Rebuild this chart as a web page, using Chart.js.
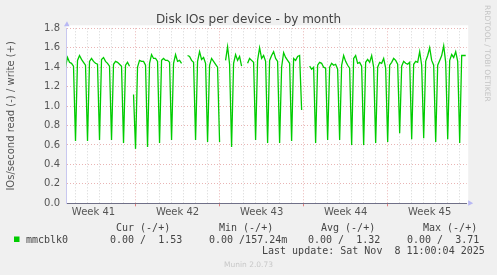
<!DOCTYPE html>
<html>
<head>
<meta charset="utf-8">
<script src="https://cdn.jsdelivr.net/npm/chart.js@4.4.1/dist/chart.umd.min.js"></script>
<style>
  html, body { margin: 0; padding: 0; background: #f0f0f0; }
  #wrap { width: 497px; height: 275px; }
</style>
</head>
<body>
<div id="wrap"><canvas id="chart" width="497" height="275"></canvas></div>
<script>
// writes per second, 4 hour averages (6 per day). day 0 = monday of week 41
const startDay = 1 + 1 / 6;
const stepDay = 1 / 6;
const writes = [
  1.40, 1.50, 1.45, 1.44, 1.41,
  0.64, 1.47, 1.52, 1.48, 1.45, 1.42,
  0.64, 1.46, 1.49, 1.46, 1.44, 1.43,
  0.65, 1.48, 1.50, 1.46, 1.44, 1.41,
  0.65, 1.43, 1.46, 1.45, 1.43, 1.41,
  0.62, 1.42, 1.45, 1.41, null, 1.12,
  0.56, 1.40, 1.47, 1.46, 1.46, 1.42,   // week 42
  0.58, 1.44, 1.53, 1.49, 1.49, 1.46,
  0.62, 1.47, 1.49, 1.47, 1.47, 1.45,
  0.65, 1.44, 1.53, 1.46, 1.47, 1.44,
  null, null, 1.52, 1.51, 1.47, 1.45,
  0.65, 1.46, 1.56, 1.48, 1.50, 1.44,
  0.63, 1.42, 1.49, 1.46, 1.43, 1.40,
  0.63, null, null, 1.47, 1.61, 1.43,   // week 43
  0.58, 1.44, 1.53, 1.47, 1.51, 1.41,
  null, null, 1.44, 1.49, 1.47, 1.45,
  0.65, 1.47, 1.60, 1.49, 1.52, 1.46,
  0.62, 1.47, 1.52, 1.56, 1.49, 1.46,
  0.62, 1.40, 1.55, 1.50, 1.47, 1.44,
  0.64, 1.49, 1.47, 1.51, 1.52, 0.96,
  null, null, null, 1.41, 1.38, 1.40,   // week 44
  0.62, 1.42, 1.45, 1.44, 1.40, 1.39,
  0.65, 1.40, 1.44, 1.42, 1.43, 1.38,
  0.65, 1.42, 1.52, 1.46, 1.42, 1.39,
  0.60, 1.49, 1.52, 1.44, 1.45, 1.41,
  0.60, 1.45, 1.48, 1.45, 1.52, 1.40,
  0.62, 1.40, 1.45, 1.44, 1.49, 1.39,
  0.63, 1.42, 1.45, 1.49, 1.47, 1.43,   // week 45
  0.72, 1.41, 1.46, 1.44, 1.43, 1.45,
  0.66, 1.43, 1.46, 1.45, 1.56, 1.42,
  0.67, 1.46, 1.52, 1.60, 1.47, 1.42,
  0.63, 1.42, 1.47, 1.52, 1.62, 1.45,
  0.66, 1.47, 1.53, 1.50, 1.56, 1.46,
  0.62, 1.52, 1.52, 1.52
];

const weekLabels = ['Week 41', 'Week 42', 'Week 43', 'Week 44', 'Week 45'];
const yTickValues = [0, 0.2, 0.4, 0.6, 0.8, 1.0, 1.2, 1.4, 1.6, 1.8];
const seriesName = 'mmcblk0';
const statHeaders = ['Cur (-/+)', 'Min (-/+)', 'Avg (-/+)', 'Max (-/+)'];
const statValues = ['0.00 /  1.53', '0.00 /157.24m', '0.00 /  1.32', '0.00 /  3.71'];
const lastUpdate = 'Last update: Sat Nov  8 11:00:04 2025';

const xMin = 1.25, xMax = 34.583;
const green = '#00cc00';
const redGrid = '#e9b4b4';
const greyGrid = '#d4d4d4';

Chart.defaults.font.family = '"DejaVu Sans"';

let points = writes.map((v, i) => ({ x: startDay + i * stepDay, y: v }));

// week label sits in the middle of each week
function weekOf(v) {
    const k = (v - 3.5) / 7;
    return Number.isInteger(k) ? weekLabels[k] : '';
}

// white plot background + arrows + all the munin texts
const muninDecor = {
    id: 'muninDecor',
    beforeDraw(chart) {
        const { ctx, chartArea: a } = chart;
        ctx.save();
        ctx.fillStyle = '#f0f0f0';
        ctx.fillRect(0, 0, chart.width, chart.height);
        ctx.fillStyle = '#ffffff';
        ctx.fillRect(a.left, a.top - 3, a.right - a.left + 1.5, a.bottom - a.top + 3);
        ctx.restore();
    },
    afterDraw(chart) {
        const { ctx, chartArea: a } = chart;
        ctx.save();
        // arrows
        ctx.fillStyle = '#b8b8f4';
        ctx.beginPath();
        ctx.moveTo(a.left - 2.5, a.top - 2);
        ctx.lineTo(a.left + 3, a.top - 2);
        ctx.lineTo(a.left + 0.5, a.top - 7);
        ctx.fill();
        ctx.beginPath();
        ctx.moveTo(a.right + 1.5, a.bottom - 3);
        ctx.lineTo(a.right + 1.5, a.bottom + 2.5);
        ctx.lineTo(a.right + 6.5, a.bottom);
        ctx.fill();

        // title
        ctx.fillStyle = '#444';
        ctx.font = '12px "DejaVu Sans"';
        ctx.textAlign = 'center';
        ctx.textBaseline = 'alphabetic';
        ctx.fillText('Disk IOs per device - by month', 248.5, 23.3);

        // watermark on the right
        ctx.save();
        ctx.translate(484.5, 5);
        ctx.rotate(Math.PI / 2);
        ctx.fillStyle = '#c4c4c4';
        ctx.font = '7.5px "DejaVu Sans"';
        ctx.textAlign = 'left';
        ctx.fillText('RRDTOOL / TOBI OETIKER', 0, 0);
        ctx.restore();

        // legend
        ctx.fillStyle = green;
        ctx.fillRect(14, 236.5, 5.5, 5.5);
        ctx.fillStyle = '#444';
        ctx.font = '10px "DejaVu Sans Mono"';
        ctx.textAlign = 'left';
        ctx.fillText(seriesName, 26, 242.7);
        const headX = [116, 219, 321, 423];
        const valX = [110, 209, 308, 407];
        statHeaders.forEach((h, i) => ctx.fillText(h, headX[i], 230.5));
        statValues.forEach((v, i) => ctx.fillText(v, valX[i], 242.7));
        ctx.fillText(lastUpdate, 262, 254);

        ctx.fillStyle = '#c8c8c8';
        ctx.font = '7.5px "DejaVu Sans"';
        ctx.textAlign = 'center';
        ctx.fillText('Munin 2.0.73', 248.5, 266.5);
        ctx.restore();
    }
};

new Chart(document.getElementById('chart'), {
    type: 'line',
    data: {
        datasets: [{
            label: seriesName,
            data: points,
            borderColor: green,
            borderWidth: 1.3,
            pointRadius: 0,
            tension: 0,
            spanGaps: false
        }]
    },
    options: {
        responsive: false,
        animation: false,
        layout: { padding: { left: 0, top: 28.3, right: 30.3, bottom: 56.7 } },
        plugins: {
            legend: { display: false },
            tooltip: { enabled: false }
        },
        scales: {
            x: {
                type: 'linear',
                min: xMin,
                max: xMax,
                afterBuildTicks: (scale) => {
                    let t = [];
                    for (let d = 2; d <= 34; d++) t.push({ value: d });
                    weekLabels.forEach((w, k) => t.push({ value: 7 * k + 3.5 }));
                    t.sort((p, q) => p.value - q.value);
                    scale.ticks = t;
                },
                ticks: {
                    autoSkip: false,
                    maxRotation: 0,
                    padding: 0,
                    color: '#555',
                    font: { size: 10 },
                    callback: (v) => weekOf(v)
                },
                grid: {
                    drawTicks: true,
                    tickLength: 3,
                    color: (c) => {
                        const v = c.tick.value;
                        if (!Number.isInteger(v)) return 'rgba(0,0,0,0)';
                        return v % 7 === 0 ? redGrid : greyGrid;
                    },
                    tickColor: (c) => (Number.isInteger(c.tick.value) && c.tick.value % 7 === 0) ? '#e08080' : 'rgba(0,0,0,0)'
                },
                border: { color: '#707088', width: 1, dash: [1, 2] }
            },
            y: {
                min: 0,
                max: 1.8,
                afterBuildTicks: (scale) => {
                    let t = [];
                    for (let i = 0; i <= 18; i++) t.push({ value: i / 10 });
                    scale.ticks = t;
                },
                afterFit: (scale) => { scale.width = 66.5; },
                ticks: {
                    padding: 6.5,
                    color: '#555',
                    font: { size: 10 },
                    callback: (v) => {
                        const hit = yTickValues.find(y => Math.abs(y - v) < 1e-6);
                        return hit === undefined ? '' : hit.toFixed(1);
                    }
                },
                grid: {
                    drawTicks: false,
                    color: (c) => {
                        const v = c.tick.value;
                        return yTickValues.some(y => Math.abs(y - v) < 1e-6) ? redGrid : greyGrid;
                    }
                },
                border: { color: '#c8c8f0', width: 1, dash: [1, 2] },
                title: {
                    display: true,
                    text: 'IOs/second read (-) / write (+)',
                    color: '#555',
                    font: { size: 10 },
                    padding: { top: 5, bottom: 0 }
                }
            }
        }
    },
    plugins: [muninDecor]
});
</script>
</body>
</html>
